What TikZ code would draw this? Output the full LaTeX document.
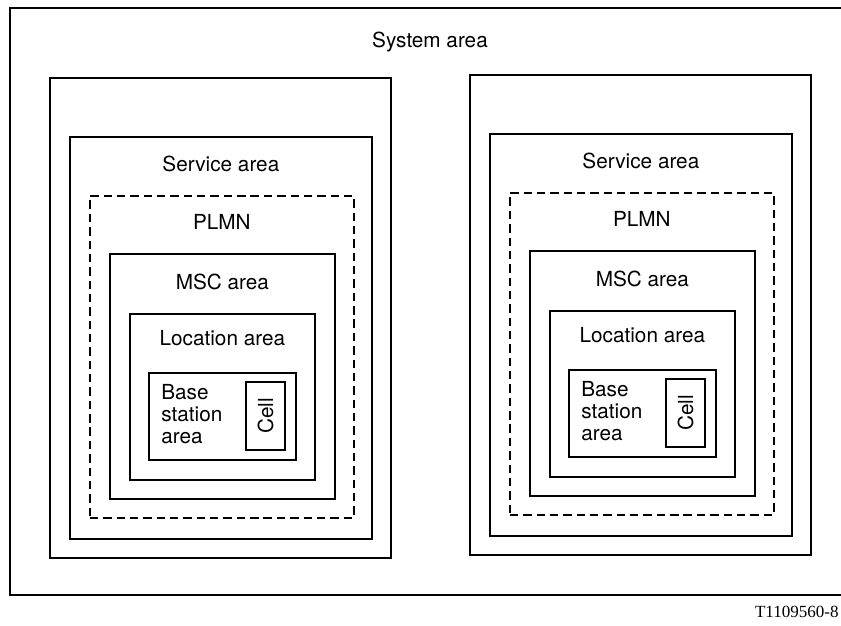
\documentclass[tikz,border=0pt]{standalone}
\usepackage{fontspec}
\setmainfont{TeX Gyre Heros}
\newfontfamily\tagfont{Liberation Serif}
\usetikzlibrary{positioning}
\tikzstyle{area} = [rectangle, draw=black, line width=1pt, inner sep=0pt, anchor=north west]
\tikzstyle{netarea} = [area, dash pattern=on 4.8pt off 2.8pt]
\tikzstyle{lbl} = [font=\fontsize{11.8}{12.6}\selectfont, inner sep=0pt]
\tikzset{wh/.style 2 args={minimum width=#1*0.02cm, minimum height=#2*0.02cm}}

\begin{document}
\begin{tikzpicture}[x=0.02cm, y=-0.02cm]
	\useasboundingbox (0,0) rectangle (841,625);
	% frame, open on the right
	\coordinate (topend) at (841,8);
	\coordinate (botend) at (841,595);
	\draw [line width=1pt] (topend) -| (10,595) -- (botend);
	\node (sysname) [lbl] at (430,42) {System area};
	% two identical nestings
	\foreach \g/\dx/\dy in {L/0/0, R/420/-3} {
		\begin{scope}[shift={(\dx,\dy)}]
		\node (\g-sys) [area, wh={341}{480}] at (49,77) {};
		\node (\g-svc) [area, wh={302}{402}] at (69,136) {};
		\node (\g-plmn) [netarea, wh={264}{322}] at (89,195) {};
		\node (\g-msc) [area, wh={225}{245}] at (109,253) {};
		\node (\g-loc) [area, wh={185}{166}] at (129,313) {};
		\node (\g-bsa) [area, wh={147}{87}] at (148,372) {};
		\node (\g-cell) [area, lbl, anchor=center, rotate=90, wh={68}{39}] at (265.5,416) {Cell};
		\node (\g-svcname) [lbl] at ([yshift=-0.55cm]\g-svc.north) {Service area};
		\node (\g-plmnname) [lbl] at ([yshift=-0.54cm]\g-plmn.north) {PLMN};
		\node (\g-mscname) [lbl] at ([yshift=-0.58cm]\g-msc.north) {MSC area};
		\node (\g-locname) [lbl] at ([yshift=-0.5cm]\g-loc.north) {Location area};
		\node (\g-bsaname) [lbl, align=left, anchor=west] at ([xshift=0.26cm, yshift=0.05cm]\g-bsa.west) {Base\\station\\area};
		\end{scope}
	}
	\node (tag) [font=\tagfont\fontsize{9.7}{10}\selectfont, anchor=east, inner sep=0pt] at (839,612) {T1109560-8};
\end{tikzpicture}
\end{document}
